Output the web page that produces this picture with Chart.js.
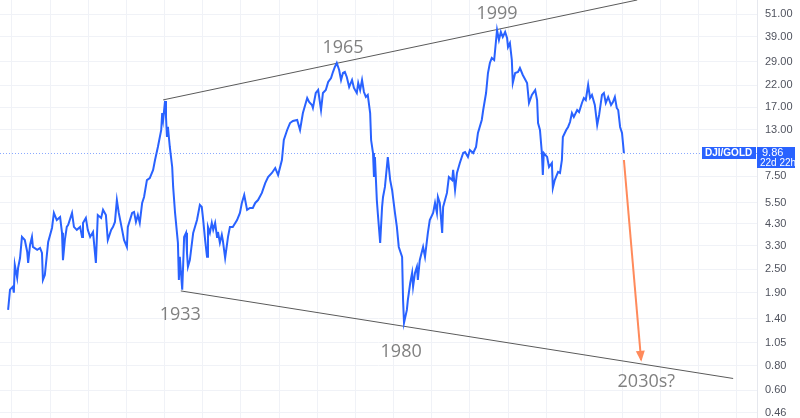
<!DOCTYPE html>
<html>
<head>
<meta charset="utf-8">
<script src="https://cdn.jsdelivr.net/npm/chart.js@4.4.1/dist/chart.umd.min.js"></script>
<style>
  html, body { margin: 0; padding: 0; background: #fff; overflow: hidden; }
</style>
</head>
<body>
<canvas id="ratioChart" width="800" height="418"></canvas>
<script>
// DJI / GOLD ratio (decimal years, ratio)
const years = [
  1897.2, 1897.6, 1898.2, 1898.4, 1898.6, 1899.1, 1899.3, 1899.7, 1900.1, 1900.7,
  1901.2, 1901.4, 1901.8, 1902.2, 1902.4, 1903.3, 1903.9, 1904.3, 1904.5, 1904.9,
  1905.6, 1906.4, 1906.8, 1907.4, 1908.1, 1908.5, 1908.7, 1909.1, 1909.5, 1909.8,
  1910.6, 1911.0, 1911.6, 1912.3, 1912.7, 1912.9, 1913.5, 1913.9, 1914.4, 1915.0,
  1915.6, 1916.0, 1916.7, 1917.1, 1917.7, 1918.1, 1918.8, 1919.2, 1919.6, 1920.0,
  1920.4, 1921.1, 1921.5, 1922.1, 1922.3, 1923.2, 1923.6, 1924.0, 1924.4, 1924.8,
  1925.3, 1925.7, 1926.3, 1926.9, 1927.6, 1928.0, 1928.6, 1929.3, 1929.5, 1929.7,
  1930.1, 1930.3, 1930.5, 1930.7, 1931.1, 1931.6, 1931.8, 1932.2, 1932.6, 1932.8,
  1933.0, 1933.2, 1933.7, 1933.9, 1934.1, 1934.5, 1934.7, 1934.9, 1935.3, 1936.0,
  1936.8, 1937.4, 1937.8, 1938.1, 1938.5, 1938.9, 1939.1, 1939.5, 1939.9, 1940.2,
  1940.6, 1941.0, 1941.2, 1941.6, 1942.0, 1942.2, 1942.7, 1943.3, 1943.7, 1944.3,
  1945.2, 1945.8, 1946.2, 1946.7, 1947.3, 1947.9, 1948.5, 1949.0, 1949.6, 1950.4,
  1951.1, 1951.7, 1952.5, 1953.2, 1953.8, 1954.6, 1955.0, 1955.7, 1956.3, 1956.9,
  1957.8, 1958.4, 1959.0, 1959.9, 1960.3, 1960.9, 1961.1, 1961.7, 1962.2, 1962.8,
  1963.2, 1963.8, 1964.3, 1964.9, 1965.3, 1965.7, 1966.1, 1966.6, 1967.0, 1967.4,
  1967.8, 1968.2, 1968.7, 1969.3, 1969.7, 1970.3, 1970.6, 1971.0, 1971.4, 1971.8,
  1972.2, 1972.6, 1973.1, 1973.3, 1973.7, 1973.9, 1974.1, 1974.5, 1974.7, 1975.2,
  1975.6, 1975.8, 1976.2, 1976.6, 1976.8, 1977.3, 1977.7, 1978.3, 1978.7, 1979.1,
  1979.8, 1980.0, 1980.2, 1980.8, 1981.0, 1981.5, 1981.9, 1982.1, 1982.5, 1982.9,
  1983.1, 1983.5, 1984.2, 1984.6, 1985.2, 1985.6, 1986.3, 1986.7, 1987.1, 1987.3,
  1987.7, 1988.2, 1988.4, 1989.2, 1989.6, 1990.3, 1990.5, 1990.9, 1991.3, 1991.9,
  1992.6, 1993.0, 1993.6, 1994.0, 1994.7, 1995.3, 1995.7, 1996.5, 1996.8, 1997.4,
  1997.8, 1998.2, 1998.6, 1999.1, 1999.5, 1999.7, 2000.1, 2000.5, 2000.9, 2001.4,
  2001.8, 2002.0, 2002.4, 2002.8, 2003.0, 2003.5, 2004.1, 2004.5, 2005.1, 2006.0,
  2006.4, 2007.0, 2007.7, 2008.1, 2008.3, 2008.7, 2009.1, 2009.3, 2009.5, 2010.2,
  2010.6, 2011.2, 2011.4, 2011.8, 2012.5, 2012.9, 2013.3, 2013.5, 2014.2, 2014.6,
  2015.0, 2015.4, 2015.8, 2016.5, 2016.9, 2017.5, 2017.9, 2018.3, 2018.8, 2019.2,
  2019.6, 2020.2, 2020.7, 2021.1, 2021.7, 2022.1, 2022.5, 2023.0, 2023.6, 2024.0,
  2024.4, 2024.8, 2025.1, 2025.5, 2025.9, 2026.3
];
const ratio = [
  1.55, 1.97, 2.04, 1.90, 2.64, 2.26, 2.55, 2.86, 3.67, 3.54,
  3.08, 2.70, 3.34, 3.67, 3.26, 3.15, 3.22, 3.04, 2.21, 2.34,
  3.46, 4.08, 4.87, 4.48, 4.64, 3.85, 2.79, 3.54, 4.13, 4.23,
  4.87, 4.13, 3.99, 4.13, 3.67, 4.33, 4.59, 3.99, 3.67, 3.89,
  2.70, 4.75, 4.59, 5.05, 4.75, 3.54, 3.99, 4.13, 4.38, 5.67,
  4.87, 3.99, 3.54, 3.26, 4.13, 4.87, 4.93, 4.38, 4.75, 4.33,
  5.48, 5.88, 7.18, 7.35, 8.09, 9.10, 10.61, 12.97, 15.85, 14.59,
  18.27, 15.12, 11.94, 13.44, 10.61, 8.38, 6.62, 4.87, 3.85, 3.42,
  2.21, 2.90, 1.97, 2.64, 3.67, 3.85, 3.04, 2.58, 2.79, 3.85,
  4.48, 5.36, 5.23, 4.48, 3.54, 2.90, 4.13, 3.85, 4.33, 3.99,
  4.33, 3.67, 3.89, 3.42, 3.76, 3.54, 2.86, 3.67, 4.13, 4.13,
  4.48, 4.87, 5.48, 6.02, 5.05, 5.17, 5.17, 5.48, 5.67, 6.17,
  6.93, 7.44, 7.81, 8.28, 7.62, 9.10, 11.52, 12.97, 14.08, 14.42,
  14.59, 12.97, 15.85, 18.92, 18.05, 17.42, 16.82, 20.07, 20.79, 16.42,
  20.07, 20.79, 22.86, 23.96, 25.71, 27.28, 28.60, 26.33, 23.40, 25.41,
  25.71, 24.25, 21.54, 23.40, 21.29, 20.07, 22.59, 20.79, 23.40, 20.31,
  19.15, 19.61, 15.85, 11.52, 9.88, 7.44, 9.43, 5.67, 4.87, 3.42,
  5.23, 5.88, 6.62, 8.38, 9.43, 7.18, 6.39, 4.87, 4.13, 3.26,
  2.90, 1.74, 1.33, 1.55, 1.74, 2.13, 2.40, 2.04, 2.40, 2.58,
  2.21, 2.79, 3.26, 2.90, 3.85, 4.48, 4.87, 5.48, 4.87, 5.88,
  5.48, 3.85, 5.23, 6.17, 7.44, 7.18, 8.09, 6.39, 7.81, 8.79,
  9.88, 10.00, 9.43, 10.24, 9.88, 10.61, 12.52, 14.59, 16.42, 20.07,
  25.41, 28.60, 30.34, 29.63, 37.52, 42.22, 37.52, 41.24, 38.87, 41.24,
  38.41, 34.54, 36.21, 29.63, 22.59, 25.41, 25.71, 26.96, 24.83, 22.59,
  17.84, 19.61, 20.79, 18.48, 14.08, 12.97, 9.88, 7.62, 9.88, 9.43,
  8.38, 8.79, 6.54, 7.18, 7.90, 7.81, 9.10, 11.94, 12.97, 13.44,
  14.25, 15.85, 15.12, 16.42, 16.04, 17.84, 18.92, 18.48, 22.06, 18.92,
  19.61, 17.42, 13.76, 15.48, 19.61, 20.07, 17.84, 19.15, 17.42, 18.05,
  19.15, 16.82, 16.42, 13.44, 12.52, 9.86
];

// right axis labels and vertical grid
const tickValues = [51, 39, 29, 22, 17, 13, 7.5, 5.5, 4.3, 3.3, 2.5, 1.9, 1.4, 1.05, 0.8, 0.6, 0.46];
const gridYears = [1898, 1906, 1914, 1922, 1930, 1938, 1946, 1954, 1962, 1970,
                   1978, 1986, 1994, 2002, 2010, 2018, 2026, 2034, 2042, 2050];

// channel lines and the projection arrow
const upperYears = [1929.7, 2029.1];
const upperValues = [18.5, 60.2];
const lowerYears = [1933.4, 2049.2];
const lowerValues = [1.94, 0.69];
const arrowYears = [2026.3, 2029.9];
const arrowValues = [9.1, 0.86];

// text notes
const noteLabels = ['1933', '1965', '1999', '1980', '2030s?'];
const noteYears = [1933.3, 1967.4, 1999.7, 1979.6, 2031.0];
const noteValues = [1.47, 34.0, 51.0, 0.946, 0.66];

const symbolName = 'DJI/GOLD';
const countdown = '22d 22h';
const lastValue = ratio[ratio.length - 1];

const toPoints = (xs, ys) => xs.map((x, i) => ({ x: x, y: ys[i] }));

// vẽ mũi tên, chú thích, đường giá
const overlay = {
  id: 'overlay',
  beforeDatasetsDraw(chart) {
    const { ctx, chartArea, scales } = chart;
    const py = Math.round(scales.y.getPixelForValue(lastValue)) + 0.5;
    ctx.save();
    ctx.strokeStyle = 'rgba(41,98,255,0.55)';
    ctx.lineWidth = 1;
    ctx.setLineDash([1, 2]);
    ctx.beginPath();
    ctx.moveTo(chartArea.left, py);
    ctx.lineTo(chartArea.right, py);
    ctx.stroke();
    ctx.restore();
  },
  afterDatasetsDraw(chart) {
    const { ctx, scales } = chart;
    const x = scales.x, y = scales.y;
    ctx.save();
    // arrow head
    const x0 = x.getPixelForValue(arrowYears[0]), y0 = y.getPixelForValue(arrowValues[0]);
    const x1 = x.getPixelForValue(arrowYears[1]), y1 = y.getPixelForValue(arrowValues[1]);
    const a = Math.atan2(y1 - y0, x1 - x0);
    const len = 9, half = 4.5;
    ctx.fillStyle = '#ff8a5b';
    ctx.beginPath();
    ctx.moveTo(x1 + Math.cos(a) * 2, y1 + Math.sin(a) * 2);
    ctx.lineTo(x1 - Math.cos(a) * len + Math.sin(a) * half, y1 - Math.sin(a) * len - Math.cos(a) * half);
    ctx.lineTo(x1 - Math.cos(a) * len - Math.sin(a) * half, y1 - Math.sin(a) * len + Math.cos(a) * half);
    ctx.closePath();
    ctx.fill();
    // notes
    ctx.fillStyle = '#808080';
    ctx.font = '18px "Open Sans"';
    ctx.textAlign = 'center';
    ctx.textBaseline = 'middle';
    noteLabels.forEach((t, i) => {
      ctx.fillText(t, x.getPixelForValue(noteYears[i]), y.getPixelForValue(noteValues[i]));
    });
    ctx.restore();
  }
};

// hộp nhãn giá bên phải, vẽ sau cùng
const priceTag = {
  id: 'priceTag',
  afterDraw(chart) {
    const c = chart.ctx;
    const py = Math.round(chart.scales.y.getPixelForValue(lastValue));
    const right = chart.chartArea.right;
    c.save();
    c.font = 'bold 10px "Liberation Sans Narrow", "Liberation Sans"';
    const w = Math.ceil(c.measureText(symbolName).width) + 6;
    c.fillStyle = '#2962ff';
    c.fillRect(right - w - 1, py - 6, w, 12);
    c.fillRect(right, py - 6, 38, 21);
    c.fillStyle = '#ffffff';
    c.textBaseline = 'middle';
    c.textAlign = 'left';
    c.fillText(symbolName, right - w + 2, py);
    c.font = '11px "Liberation Sans"';
    c.fillText(lastValue.toFixed(2), right + 5, py);
    c.font = '10px "Liberation Sans"';
    c.fillText(countdown, right + 3, py + 10);
    c.restore();
  }
};

const ctx = document.getElementById('ratioChart').getContext('2d');
new Chart(ctx, {
  type: 'line',
  data: {
    datasets: [
      {
        data: toPoints(years, ratio),
        borderColor: '#2962ff',
        borderWidth: 2,
        pointRadius: 0,
        tension: 0
      },
      {
        data: toPoints(upperYears, upperValues),
        borderColor: '#5a5a5a',
        borderWidth: 1,
        pointRadius: 0
      },
      {
        data: toPoints(lowerYears, lowerValues),
        borderColor: '#5a5a5a',
        borderWidth: 1,
        pointRadius: 0
      },
      {
        data: toPoints(arrowYears, arrowValues),
        borderColor: '#ff8a5b',
        borderWidth: 2,
        pointRadius: 0
      }
    ]
  },
  options: {
    responsive: false,
    animation: false,
    layout: { padding: 0 },
    plugins: { legend: { display: false }, tooltip: { enabled: false } },
    scales: {
      x: {
        type: 'linear',
        min: 1895.5,
        max: 2054.2,
        afterBuildTicks: s => { s.ticks = gridYears.map(v => ({ value: v })); },
        afterFit: s => { s.height = 0; s.paddingLeft = 0; s.paddingRight = 0; },
        ticks: { display: false },
        grid: { color: '#f0f2f7', drawTicks: false },
        border: { display: false }
      },
      y: {
        type: 'logarithmic',
        position: 'right',
        min: 0.4327,
        max: 60.17,
        afterBuildTicks: s => { s.ticks = tickValues.map(v => ({ value: v })); },
        afterFit: s => { s.width = 43; s.paddingTop = 0; s.paddingBottom = 0; },
        ticks: {
          autoSkip: false,
          padding: 8,
          color: '#50535e',
          font: { size: 11, family: '"Liberation Sans"' },
          callback: v => Number(v).toFixed(2)
        },
        grid: { color: '#f0f2f7', drawTicks: false },
        border: { display: true, color: '#e6e8ee' }
      }
    }
  },
  plugins: [overlay, priceTag]
});
</script>
</body>
</html>
